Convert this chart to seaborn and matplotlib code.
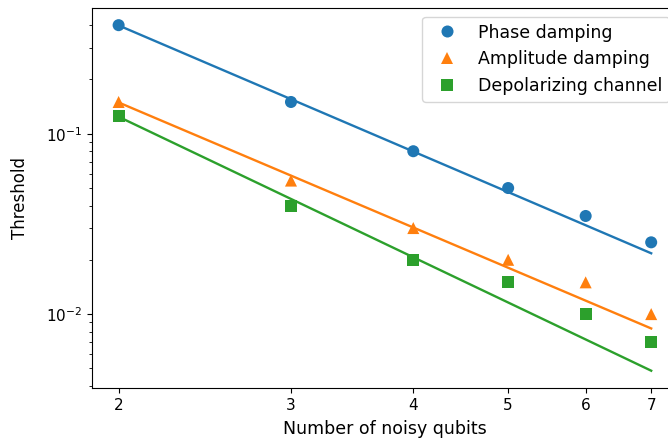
import numpy as np
import pandas as pd
import seaborn as sns
import matplotlib
matplotlib.use('Agg')
import matplotlib.pyplot as plt
from matplotlib.ticker import ScalarFormatter, NullLocator

qubits = [2, 3, 4, 5, 6, 7]
phase = [0.4, 0.15, 0.08, 0.05, 0.035, 0.025]
amplitude = [0.15, 0.055, 0.03, 0.02, 0.015, 0.01]
depolar = [0.125, 0.04, 0.02, 0.015, 0.01, 0.007]
names = ['Phase damping', 'Amplitude damping', 'Depolarizing channel']
colors = ['#1f77b4', '#ff7f0e', '#2ca02c']
marks = ['o', '^', 's']

def powerfit(x, y):
    # least squares of a*x^b in linear space, started from log-log fit
    x = np.asarray(x, float)
    y = np.asarray(y, float)
    b, la = np.polyfit(np.log(x), np.log(y), 1)
    for _ in range(100):
        f = np.exp(la) * x**b
        J = np.column_stack([f, f * np.log(x)])
        step = np.linalg.lstsq(J, y - f, rcond=None)[0]
        la += step[0]
        b += step[1]
    return np.exp(la), b

df = pd.DataFrame({
    'qubits': qubits * 3,
    'threshold': phase + amplitude + depolar,
    'channel': [n for n in names for _ in qubits],
})

fig = plt.figure(figsize=(6.68, 4.43), dpi=100)
ax = fig.add_axes([0.1377, 0.1242, 0.877, 0.858])

for name, ys, c in zip(names, [phase, amplitude, depolar], colors):
    a, b = powerfit(qubits, ys)
    fit = pd.DataFrame({'x': qubits, 'y': a * np.asarray(qubits, float)**b})
    sns.lineplot(data=fit, x='x', y='y', color=c, linewidth=1.7, ax=ax, legend=False)

sns.scatterplot(data=df, x='qubits', y='threshold', hue='channel', style='channel',
                palette=colors, markers=marks, s=75, linewidth=0, ax=ax, zorder=3)

ax.set_xscale('log')
ax.set_yscale('log')
ax.set_xticks(qubits)
ax.xaxis.set_major_formatter(ScalarFormatter())
ax.xaxis.set_minor_locator(NullLocator())
ax.set_xlabel('Number of noisy qubits', fontsize=12.5, labelpad=5)
ax.set_ylabel('Threshold', fontsize=12, labelpad=12)
ax.tick_params(labelsize=11)
ax.legend(loc='upper right', fontsize=12.5, title=None)

fig.savefig('out.png', dpi=100)
